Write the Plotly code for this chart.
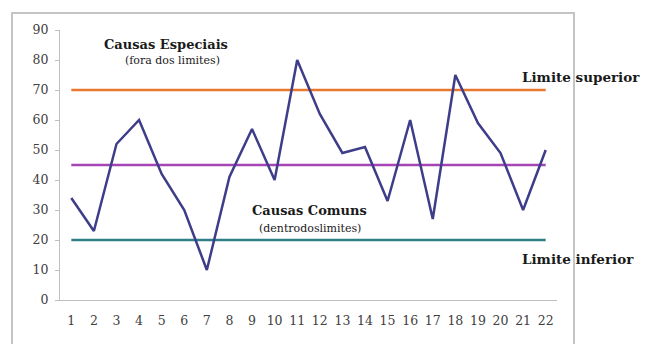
import plotly.graph_objects as go

# Control chart data
samples = list(range(1, 23))
values = [34, 23, 52, 60, 42, 30, 10, 41, 57, 40, 80, 62, 49, 51, 33, 60, 27, 75, 59, 49, 30, 50]
upper_limit = 70
mean_value = 45
lower_limit = 20
y_ticks = [0, 10, 20, 30, 40, 50, 60, 70, 80, 90]

FONT = "DejaVu Serif"
W, H = 652, 344
L, R, T, B = 60, 95, 30, 44
pw = W - L - R
ph = H - T - B


def px_to_paper_x(px):
    return (px - L) / pw


def px_to_paper_y(py):
    return (H - B - py) / ph


fig = go.Figure()

# reference lines
for val, color in [(upper_limit, "#E8782F"), (mean_value, "#A544B5"), (lower_limit, "#2F7F86")]:
    fig.add_trace(go.Scatter(x=[samples[0], samples[-1]], y=[val, val], mode="lines",
                             line=dict(color=color, width=2.5), hoverinfo="skip"))

# measured series
fig.add_trace(go.Scatter(x=samples, y=values, mode="lines",
                         line=dict(color="#3E3D8A", width=2.5)))

annotations = [
    dict(x=5.2, y=85.3, text="<b>Causas Especiais</b>", size=13, xanchor="center"),
    dict(x=5.5, y=80.0, text="(fora dos limites)", size=11, xanchor="center"),
    dict(x=11.55, y=29.7, text="<b>Causas Comuns</b>", size=13, xanchor="center"),
    dict(x=11.55, y=24.0, text="(dentrodoslimites)", size=11, xanchor="center"),
    dict(x=20.85, y=74.3, text="<b>Limite superior</b>", size=13.5, xanchor="left"),
    dict(x=24.4, y=45.7, text="<b>Média</b>", size=13.5, xanchor="left"),
    dict(x=20.85, y=13.7, text="<b>Limite inferior</b>", size=13.5, xanchor="left"),
]

fig.update_layout(
    width=W, height=H,
    margin=dict(l=L, r=R, t=T, b=B),
    paper_bgcolor="white", plot_bgcolor="white",
    showlegend=False,
    font=dict(family=FONT, color="#404040"),
    xaxis=dict(range=[0.5, 22.5], tickvals=samples, ticktext=[str(s) for s in samples],
               showgrid=False, zeroline=False, showline=True, linecolor="#BFBFBF", linewidth=1,
               ticks="", ticklabelstandoff=9,
               tickfont=dict(size=12.5, family=FONT, color="#404040")),
    yaxis=dict(range=[0, 90], tickvals=y_ticks, showgrid=False, zeroline=False,
               showline=True, linecolor="#BFBFBF", linewidth=1, ticks="outside", ticklen=4,
               tickcolor="#BFBFBF", ticklabelstandoff=4,
               tickfont=dict(size=12.5, family=FONT, color="#404040")),
    shapes=[dict(type="rect", xref="paper", yref="paper",
                 x0=px_to_paper_x(12), x1=px_to_paper_x(574),
                 y0=px_to_paper_y(360), y1=px_to_paper_y(13),
                 line=dict(color="#C4C4C4", width=2), fillcolor="rgba(0,0,0,0)", layer="below")],
    annotations=[dict(x=a["x"], y=a["y"], xref="x", yref="y", text=a["text"], showarrow=False,
                      xanchor=a["xanchor"], yanchor="middle",
                      font=dict(family=FONT, size=a["size"], color="#1A1A1A")) for a in annotations],
)

fig.write_html("out.html")
